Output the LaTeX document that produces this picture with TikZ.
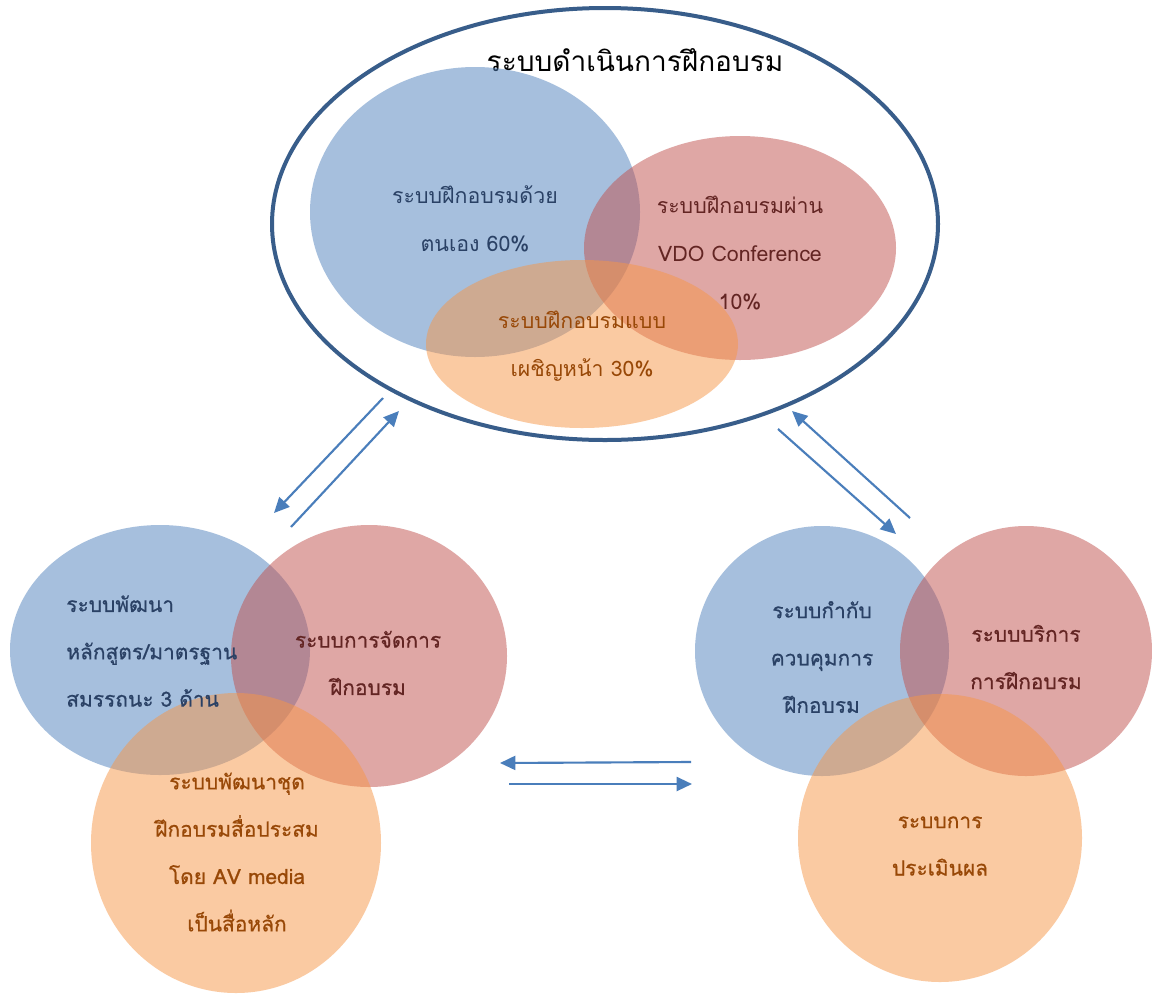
\documentclass[tikz,border=0pt]{standalone}
\usepackage{fontspec}
\usetikzlibrary{shapes.geometric,arrows.meta}
\newfontfamily\thai[Script=Thai]{Loma}
\newfontfamily\thaiheavy[Script=Thai,FakeBold=0.6]{Loma}

\definecolor{vblue}{HTML}{4F81BD}
\definecolor{vred}{HTML}{C0504D}
\definecolor{vorange}{HTML}{F79646}
\definecolor{rim}{HTML}{385D8A}
\definecolor{arrowblue}{HTML}{4A7EBB}
\definecolor{tblue}{HTML}{2A4165}
\definecolor{tred}{HTML}{632523}
\definecolor{torange}{HTML}{984807}

\begin{document}
\begin{tikzpicture}[x=0.75pt,y=-0.75pt,
  bub/.style args={#1/#2}{ellipse, inner sep=0pt,
    minimum width=#1*1.5pt, minimum height=#2*1.5pt, fill opacity=0.5},
  bblue/.style={bub=#1, fill=vblue},
  bred/.style={bub=#1, fill=vred},
  borange/.style={bub=#1, fill=vorange},
  lbl/.style={align=center, inner sep=0pt},
  toptxt/.style={lbl, font=\thai\fontsize{16}{36}\selectfont},
  lowtxt/.style={lbl, font=\thaiheavy\fontsize{15.7}{35.5}\selectfont},
  link/.style={draw=arrowblue, line width=1.6pt,
    -{Triangle[length=11.5pt,width=10.5pt]}},
]
\useasboundingbox (0,0) rectangle (1152,993);
\fill[white] (0,0) rectangle (1152,993);

% operating system: outer ring with three overlapping modes
\node[ellipse, draw=rim, line width=3pt, inner sep=0pt,
  minimum width=666*0.75pt, minimum height=432*0.75pt] (ops) at (605,224) {};
\node[font=\thai\fontsize{21}{24}\selectfont] (opstitle) at (635,60) {ระบบดำเนินการฝึกอบรม};

\node[bblue=165/145] (self) at (475,212) {};
\node[bred=156/112] (vdo) at (740,248) {};
\node[borange=156/84] (face) at (582,344) {};

\node[toptxt, text=tblue] (selft) at (475,219) {ระบบฝึกอบรมด้วย\\ตนเอง 60\%};
\node[toptxt, text=tred] (vdot) at (740,253) {ระบบฝึกอบรมผ่าน\\VDO Conference\\10\%};
\node[toptxt, text=torange] (facet) at (582,346) {ระบบฝึกอบรมแบบ\\เผชิญหน้า 30\%};

% development system (lower left)
\node[bblue=150/125] (cur) at (160,650) {};
\node[bred=138/131] (mgmt) at (369,656) {};
\node[borange=145/150] (media) at (236,843) {};

\node[lowtxt, align=left, anchor=west, text=tblue] (curt) at (66,651)
  {ระบบพัฒนา\\หลักสูตร/มาตรฐาน\\สมรรถนะ 3 ด้าน};
\node[lowtxt, text=tred] (mgmtt) at (368,663) {ระบบการจัดการ\\ฝึกอบรม};
\node[lowtxt, text=torange] (mediat) at (237,852)
  {ระบบพัฒนาชุด\\ฝึกอบรมสื่อประสม\\โดย AV media\\เป็นสื่อหลัก};

% supervision system (lower right)
\node[bblue=127/125] (ctrl) at (822,651) {};
\node[bred=126/125] (serv) at (1026,651) {};
\node[borange=142/144] (eval) at (940,838) {};

\node[lowtxt, text=tblue] (ctrlt) at (822,657) {ระบบกำกับ\\ควบคุมการ\\ฝึกอบรม};
\node[lowtxt, text=tred] (servt) at (1026,657) {ระบบบริการ\\การฝึกอบรม};
\node[lowtxt, text=torange] (evalt) at (940,846) {ระบบการ\\ประเมินผล};

% arrow end points
\coordinate (l1s) at (383,398); \coordinate (l1e) at (274,513);
\coordinate (l2s) at (291,527); \coordinate (l2e) at (399,411);
\coordinate (r1s) at (778,429); \coordinate (r1e) at (896,534);
\coordinate (r2s) at (910,518); \coordinate (r2e) at (792,411);
\coordinate (b1s) at (691,762); \coordinate (b1e) at (500,763);
\coordinate (b2s) at (509,784); \coordinate (b2e) at (692,784);

\draw[link] (l1s) -- (l1e);
\draw[link] (l2s) -- (l2e);
\draw[link] (r1s) -- (r1e);
\draw[link] (r2s) -- (r2e);
\draw[link] (b1s) -- (b1e);
\draw[link] (b2s) -- (b2e);
\end{tikzpicture}
\end{document}
